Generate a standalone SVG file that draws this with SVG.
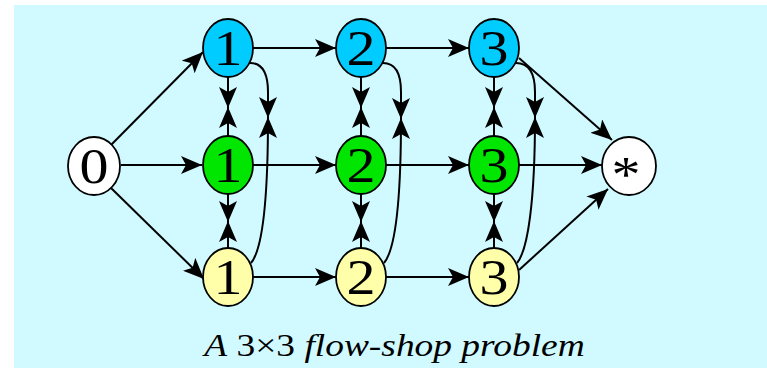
<svg xmlns="http://www.w3.org/2000/svg" width="767" height="368" viewBox="0 0 767 368">
<style>
.bg{fill:#d0faff}
.n{stroke:#000;stroke-width:1.8}
.c{fill:#00ccff}.g{fill:#00e600}.y{fill:#ffffaa}.w{fill:#ffffff}
.t{font-size:50px;text-anchor:middle;fill:#000}
.e{fill:none;stroke:#000;stroke-width:2;marker-end:url(#ah)}
.cap{font-size:32px;text-anchor:middle;fill:#000}
</style>
<defs>
<marker id="ah" markerUnits="userSpaceOnUse" viewBox="0 -9 21 18" refX="21" refY="0" markerWidth="21" markerHeight="18" orient="auto">
<path d="M0,-9 L21,0 L0,9 L5,0 Z" fill="#000"/>
</marker>
</defs>
<rect class="bg" x="14" y="5" width="753" height="363"/>
<g id="connectors">
<path class="e" d="M111,145 L203,52"/>
<path class="e" d="M121,165 L202,165"/>
<path class="e" d="M111,188 L204,279"/>
<path class="e" d="M253,48 L336,48"/>
<path class="e" d="M386,48 L469,48"/>
<path class="e" d="M253,165 L336,165"/>
<path class="e" d="M386,165 L469,165"/>
<path class="e" d="M253,277 L336,277"/>
<path class="e" d="M386,277 L469,277"/>
<path class="e" d="M519,58 L612,140"/>
<path class="e" d="M519,165 L602,165"/>
<path class="e" d="M519,270 L608,189"/>
<path class="e" d="M228,77 L228,108"/>
<path class="e" d="M228,136 L228,107"/>
<path class="e" d="M228,194 L228,222"/>
<path class="e" d="M228,248 L228,221"/>
<path class="e" d="M250,63 C262,63 268,72 268,92 L268,118"/>
<path class="e" d="M251,263 C262,250 268,200 268,117"/>
<path class="e" d="M361,77 L361,108"/>
<path class="e" d="M361,136 L361,107"/>
<path class="e" d="M361,194 L361,222"/>
<path class="e" d="M361,248 L361,221"/>
<path class="e" d="M383,63 C395,63 401,72 401,92 L401,119"/>
<path class="e" d="M384,263 C395,250 401,200 401,118"/>
<path class="e" d="M494,77 L494,108"/>
<path class="e" d="M494,136 L494,107"/>
<path class="e" d="M494,194 L494,222"/>
<path class="e" d="M494,248 L494,221"/>
<path class="e" d="M516,63 C528,63 535,72 535,92 L535,118"/>
<path class="e" d="M517,263 C528,250 535,200 535,117"/>
</g>
<g font-family="'Liberation Serif', 'Times New Roman', 'DejaVu Serif', serif">
<g id="n0"><ellipse class="n w" cx="94" cy="166" rx="26" ry="29"/><text class="t" transform="translate(94,183) scale(1.16,1)">0</text></g>
<g id="c1"><ellipse class="n c" cx="228" cy="48" rx="25" ry="29"/><text class="t" transform="translate(228,65) scale(1.16,1)">1</text></g>
<g id="c2"><ellipse class="n c" cx="361" cy="48" rx="25" ry="29"/><text class="t" transform="translate(361,65) scale(1.16,1)">2</text></g>
<g id="c3"><ellipse class="n c" cx="494" cy="48" rx="25" ry="29"/><text class="t" transform="translate(494,65) scale(1.16,1)">3</text></g>
<g id="g1"><ellipse class="n g" cx="228" cy="165" rx="25" ry="29"/><text class="t" transform="translate(228,182) scale(1.16,1)">1</text></g>
<g id="g2"><ellipse class="n g" cx="361" cy="165" rx="25" ry="29"/><text class="t" transform="translate(361,182) scale(1.16,1)">2</text></g>
<g id="g3"><ellipse class="n g" cx="494" cy="165" rx="25" ry="29"/><text class="t" transform="translate(494,182) scale(1.16,1)">3</text></g>
<g id="y1"><ellipse class="n y" cx="228" cy="277" rx="25" ry="29"/><text class="t" transform="translate(228,294) scale(1.16,1)">1</text></g>
<g id="y2"><ellipse class="n y" cx="361" cy="277" rx="25" ry="29"/><text class="t" transform="translate(361,294) scale(1.16,1)">2</text></g>
<g id="y3"><ellipse class="n y" cx="494" cy="277" rx="25" ry="29"/><text class="t" transform="translate(494,294) scale(1.16,1)">3</text></g>
<g id="sink"><ellipse class="n w" cx="629" cy="166" rx="27" ry="29"/><text class="t" transform="translate(626,191) scale(1.16,1)">*</text></g>
<text class="cap" transform="translate(394.5,356) scale(1.17,1)"><tspan font-style="italic">A</tspan> 3×3 <tspan font-style="italic">flow-shop problem</tspan></text>
</g>
</svg>
